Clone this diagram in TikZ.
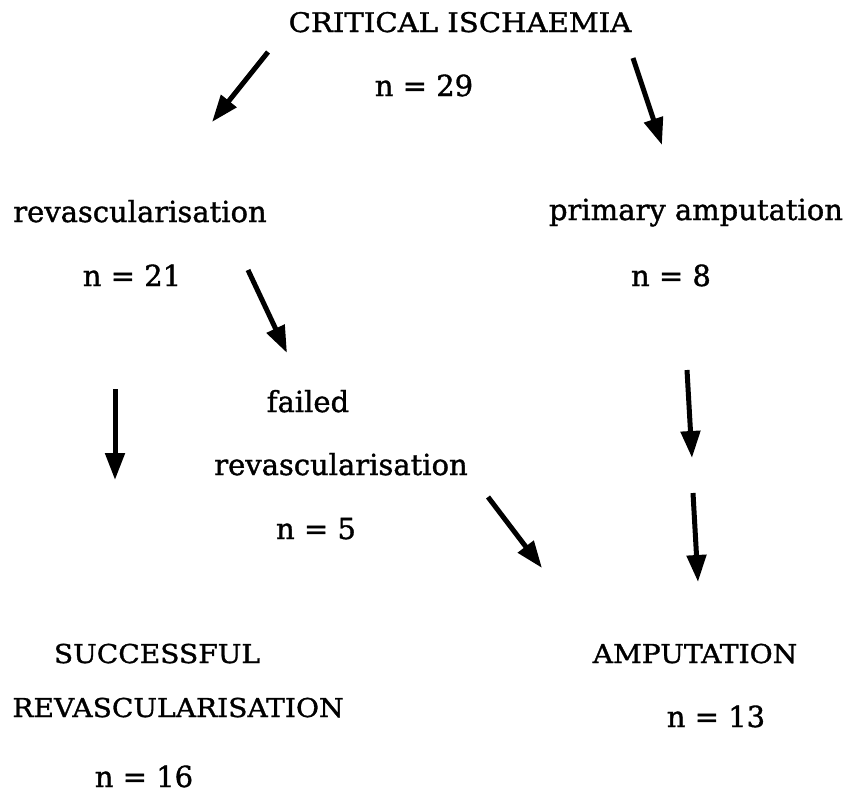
\documentclass[tikz,border=0pt]{standalone}
\usepackage{fontspec}
\setmainfont[FakeBold=1.2]{DejaVu Serif}
\newfontfamily\capsfont[FakeStretch=1.08,FakeBold=1.2]{DejaVu Serif}
\usetikzlibrary{arrows.meta}
\begin{document}
\begin{tikzpicture}[x=1pt,y=-1pt,
  lbl/.style={inner sep=0pt, anchor=base},
  caps/.style={lbl, font=\capsfont\fontsize{26}{30}\selectfont},
  bigcaps/.style={lbl, font=\capsfont\fontsize{27}{31}\selectfont},
  low/.style={lbl, font=\fontsize{29}{34}\selectfont},
  arr/.style={line width=5pt, -{Triangle[length=27pt,width=19pt]}}]
\useasboundingbox[fill=white] (0,0) rectangle (846,798);

% texts
\node[bigcaps] (crit) at (460,32) {CRITICAL ISCHAEMIA};
\node[low]  (n29)  at (424,96) {n = 29};
\node[low]  (rev)  at (140,222) {revascularisation};
\node[low]  (n21)  at (132,286) {n = 21};
\node[low]  (prim) at (696,220) {primary amputation};
\node[low]  (n8)   at (671,286) {n = 8};
\node[low]  (fail) at (308,412) {failed};
\node[low]  (frev) at (341,475) {revascularisation};
\node[low]  (n5)   at (316,539) {n = 5};
\node[caps] (succ) at (157,663) {SUCCESSFUL};
\node[caps] (srev) at (178,717) {REVASCULARISATION};
\node[low]  (n16)  at (144,787) {n = 16};
\node[caps] (amp)  at (695,663) {AMPUTATION};
\node[low]  (n13)  at (716,727) {n = 13};

% arrow end points
\coordinate (a1s) at (268,52);  \coordinate (a1e) at (212,122);
\coordinate (a2s) at (633,58);  \coordinate (a2e) at (662,145);
\coordinate (a3s) at (248,270); \coordinate (a3e) at (287,353);
\coordinate (a4s) at (115,389); \coordinate (a4e) at (115,480);
\coordinate (a5s) at (687,370); \coordinate (a5e) at (692,458);
\coordinate (a6s) at (693,493); \coordinate (a6e) at (698,582);
\coordinate (a7s) at (488,497); \coordinate (a7e) at (542,568);

\draw[arr] (a1s) -- (a1e);
\draw[arr] (a2s) -- (a2e);
\draw[arr] (a3s) -- (a3e);
\draw[arr] (a4s) -- (a4e);
\draw[arr] (a5s) -- (a5e);
\draw[arr] (a6s) -- (a6e);
\draw[arr] (a7s) -- (a7e);
\end{tikzpicture}
\end{document}
